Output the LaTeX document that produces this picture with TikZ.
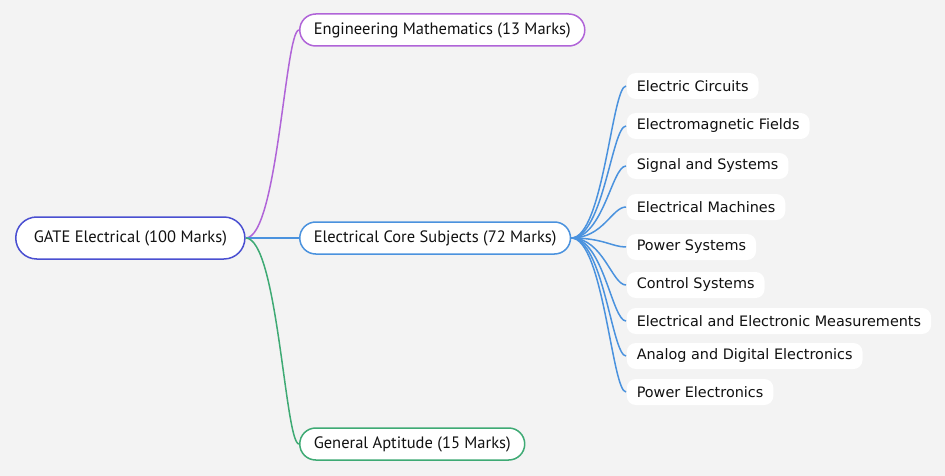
\documentclass[tikz,border=0pt]{standalone}
\usepackage{fontspec}
\setmainfont{PT Sans}
\newfontfamily\leaffont{DejaVu Sans}
\usepackage{tikz}

\definecolor{bgcol}{HTML}{F3F3F3}
\definecolor{rootcol}{HTML}{4A4FD1}
\definecolor{mathcol}{HTML}{B064D8}
\definecolor{corecol}{HTML}{4A92DE}
\definecolor{aptcol}{HTML}{3EAA74}
\definecolor{txtcol}{HTML}{111111}

\begin{document}
\begin{tikzpicture}[x=1pt,y=-1pt,line width=1.5pt,
			main node/.style={rounded corners=16pt,draw,fill=white,anchor=west,text=txtcol,
				minimum height=32pt,inner xsep=14pt,font=\fontsize{16.5}{19}\selectfont},
			root node/.style={main node,rounded corners=21pt,minimum height=42pt,inner xsep=18pt,draw=rootcol},
			leaf node/.style={rounded corners=9pt,fill=white,anchor=west,text=txtcol,
				minimum height=26pt,inner xsep=10pt,font=\leaffont\fontsize{14.4}{17}\selectfont},
			branch/.style={to path={.. controls +(32,0) and +(-14,0) .. (\tikztotarget)}}]
			
			\fill[bgcol] (0,0) rectangle (945,476);
			
			\node[root node] (gate) at (15,238) {GATE Electrical (100 Marks)};
			\node[main node,draw=mathcol] (math) at (299,30) {Engineering Mathematics (13 Marks)};
			\node[main node,draw=corecol] (core) at (299,238) {Electrical Core Subjects (72 Marks)};
			\node[main node,draw=aptcol] (apt) at (299,444) {General Aptitude (15 Marks)};
			
			\node[leaf node] (l1) at (626,86) {Electric Circuits};
			\node[leaf node] (l2) at (626,126) {Electromagnetic Fields};
			\node[leaf node] (l3) at (626,166) {Signal and Systems};
			\node[leaf node] (l4) at (626,207) {Electrical Machines};
			\node[leaf node] (l5) at (626,247) {Power Systems};
			\node[leaf node] (l6) at (626,285) {Control Systems};
			\node[leaf node] (l7) at (626,321) {Electrical and Electronic Measurements};
			\node[leaf node] (l8) at (626,356) {Analog and Digital Electronics};
			\node[leaf node] (l9) at (626,392) {Power Electronics};
			
			\path[branch]
			(gate.east) edge[draw=mathcol] (math.west)
			(gate.east) edge[draw=corecol] (core.west)
			(gate.east) edge[draw=aptcol] (apt.west);
			
			\foreach \i in {1,...,9}
				\path[branch] (core.east) edge[draw=corecol] (l\i.west);
			
\end{tikzpicture}
\end{document}
